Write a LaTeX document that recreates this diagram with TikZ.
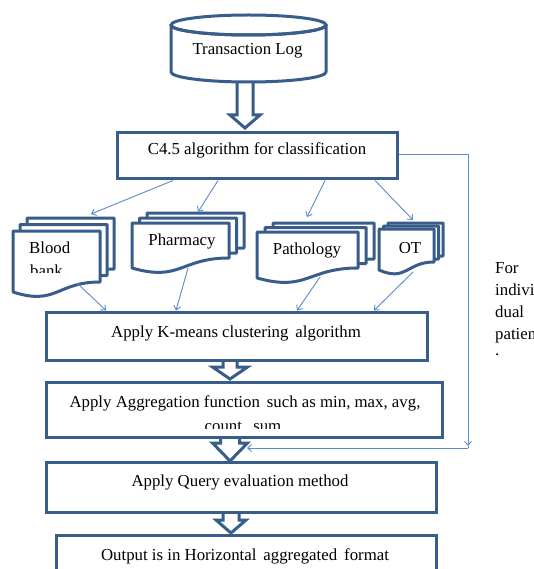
\documentclass[tikz,border=0pt]{standalone}
\usepackage{fontspec}
\setmainfont{Liberation Serif}
\usetikzlibrary{arrows.meta,calc}
\definecolor{boxc}{HTML}{385D8A}
\definecolor{linec}{HTML}{5B8BC8}
\tikzset{
 box/.style={draw=boxc, line width=3pt, fill=white, rectangle, inner sep=0pt},
 conn/.style={draw=linec, line width=0.9pt, -{Straight Barb[length=4pt,width=7pt]}},
 hollow/.style={draw=boxc, line width=3pt, fill=white, line join=miter},
 lbl/.style={font=\fontsize{16.8}{22}\selectfont, inner sep=0pt, text=black},
 docshape/.style={draw=boxc, line width=3pt, fill=white, line join=round},
}
\newcommand\onedoc[5]{\filldraw[docshape] (#1,#2) -- (#3,#2) -- (#3,#4) .. controls ({((#1)+(#3))/2},#4) and ({((#1)+(#3))/2},{2*(#5)-(#4)+4}) .. (#1,#5) -- cycle;}
\newcommand\multidoc[7]{%
 \onedoc{#1+2*#6}{#2-2*#7}{#3+2*#6}{#4-2*#7}{#5-2*#7}%
 \onedoc{#1+#6}{#2-#7}{#3+#6}{#4-#7}{#5-#7}%
 \onedoc{#1}{#2}{#3}{#4}{#5}}
\newcommand\hollowarrow[6]{\filldraw[hollow] ({#1-#5},#2) -- ({#1-#5},#3) -- ({#1-#6},#3) -- (#1,#4) -- ({#1+#6},#3) -- ({#1+#5},#3) -- ({#1+#5},#2);}
\begin{document}
\begin{tikzpicture}[x=1pt,y=-1pt]
\useasboundingbox (0,0) rectangle (533,569);
\fill[white] (0,0) rectangle (533,569);
\clip (0,0) rectangle (533,569);

% hollow block arrows
\hollowarrow{245}{78}{115}{128}{8}{15}
\hollowarrow{230}{358}{367}{379}{7}{17.5}
\hollowarrow{230}{435}{443}{461}{9.5}{17.5}
\hollowarrow{231}{510}{520}{533}{8}{15}

% cylinder
\node[inner sep=0pt, minimum width=155pt, minimum height=67pt] (log) at (248.5,48.5) {};
\filldraw[docshape] (171,25) -- (171,72) arc[start angle=180, end angle=0, x radius=77.5, y radius=10] -- (326,25) arc[start angle=0, end angle=180, x radius=77.5, y radius=10];
\draw[draw=boxc, line width=3pt] (248.5,25) ellipse[x radius=77.5, y radius=10];
\node[lbl, anchor=base] (logt) at (247.5,55) {Transaction Log};

% boxes
\node[box, minimum width=280pt, minimum height=46pt] (c45) at (257,156) {};
\node[lbl, anchor=base] (c45t) at (257,155) {C4.5 algorithm for classification};

\node[box, minimum width=381pt, minimum height=48pt] (km) at (236.5,336) {};
\node[lbl, anchor=base] (kmt) at (236,337) {Apply K-means clustering\, algorithm};

\node[box, minimum width=396pt, minimum height=55pt] (agg) at (244,409.5) {};
\node[lbl, anchor=base] (aggt) at (245,407) {Apply Aggregation function\, such as min, max, avg,};
\begin{scope}
\clip (46,380) rectangle (442,428);
\node[lbl, anchor=base] (aggt2) at (243,431) {count,\, sum};
\end{scope}

\node[box, minimum width=390pt, minimum height=50pt] (qe) at (241,487) {};
\node[lbl, anchor=base] (qet) at (240,486) {Apply Query evaluation method};

\node[box, minimum width=380pt, minimum height=60pt] (out) at (246,565) {};
\node[lbl, anchor=base] (outt) at (245,560) {Output is in Horizontal\, aggregated\, format};

% documents
\multidoc{13}{231}{100}{282}{292}{7}{6.5}
\node[lbl, anchor=base west] (bloodt) at (29,253) {Blood};
\begin{scope}
\clip (20,255) rectangle (95,272);
\node[lbl, anchor=base west] (bankt) at (30,276) {bank};
\end{scope}

\multidoc{132}{223}{229}{258}{268}{7.5}{5}
\node[lbl, anchor=base] (pht) at (182,245) {Pharmacy};

\multidoc{257}{232}{358}{268}{278}{8}{4.5}
\node[lbl, anchor=base] (patht) at (307,254) {Pathology};

\multidoc{379}{229}{434}{262}{270}{4.5}{3}
\node[lbl, anchor=base] (ott) at (410,253) {OT};

% side text
\node[lbl, anchor=north west, align=left] (side) at (495,262) {For\\indivi\\dual\\patient\\[-6pt].};

% connectors
\draw[conn] (c45.south -| 173,0) -- (91,214);
\draw[conn] (c45.south -| 218,0) -- (198,212);
\draw[conn] (c45.south -| 325,0) -- (307,217);
\draw[conn] (c45.south -| 375,0) -- (413,220);

\draw[conn] (77,283) -- (km.north -| 106,0);
\draw[conn] (188,268) -- (km.north -| 176,0);
\draw[conn] (320,277) -- (km.north -| 297,0);
\draw[conn] (413,272) -- (km.north -| 374,0);

\coordinate (fb1) at (468,154);
\coordinate (fb2) at (468,446);
\coordinate (fb3) at (468,448);
\coordinate (fb4) at (247,448);
\draw[conn, -] (c45.east |- fb1) -- (fb1);
\draw[conn] (fb1) -- (fb2);
\draw[conn, -] (fb2) -- (fb3);
\draw[conn] (fb3) -- (fb4);
\end{tikzpicture}
\end{document}
